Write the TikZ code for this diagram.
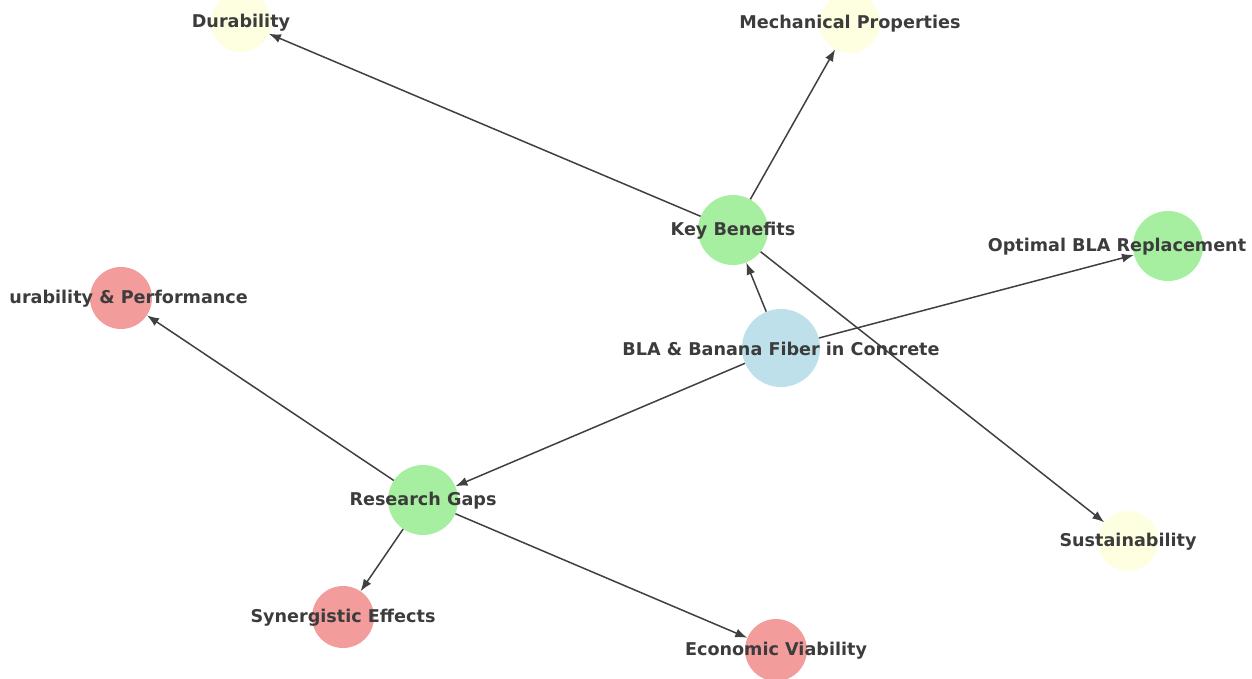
\documentclass[tikz,border=0pt]{standalone}
\usepackage{fontspec}
\setmainfont{DejaVu Sans}
\usepackage{tikz}
\usetikzlibrary{arrows.meta}
\usepackage{color}
\definecolor{skyblue}{RGB}{190, 224, 235}
\definecolor{mint}{RGB}{166, 239, 160}
\definecolor{coral}{RGB}{242, 156, 156}
\definecolor{cream}{RGB}{254, 254, 224}
\definecolor{ink}{RGB}{60, 60, 60}
\definecolor{wire}{RGB}{64, 64, 64}

\tikzset{
  hub/.style={circle, fill=skyblue, minimum size=78pt, inner sep=0pt},
  branch/.style={circle, fill=mint, minimum size=70pt, inner sep=0pt},
  gap/.style={circle, fill=coral, minimum size=62pt, inner sep=0pt},
  gain/.style={circle, fill=cream, minimum size=60pt, inner sep=0pt},
  lbl/.style={text=ink, font=\fontsize{17.6}{20}\selectfont\bfseries, inner sep=0pt},
  link/.style={draw=wire, line width=1.5pt, -{Latex[length=12pt,width=9pt]}}
}

\begin{document}
\begin{tikzpicture}[x=1pt, y=-1pt]
            \useasboundingbox (0,0) rectangle (1252,679);
            \clip (0,0) rectangle (1252,679);
            % circles
            \node[hub]    (hub)  at ( 781, 348) {};
            \node[branch] (kb)   at ( 733, 230) {};
            \node[branch] (rg)   at ( 423, 500) {};
            \node[branch] (obr)  at (1168, 246) {};
            \node[gain]   (dur)  at ( 241,  22) {};
            \node[gain]   (mech) at ( 850,  23) {};
            \node[gain]   (sus)  at (1128, 541) {};
            \node[gap]    (dp)   at ( 121, 298) {};
            \node[gap]    (syn)  at ( 343, 617) {};
            \node[gap]    (eco)  at ( 776, 650) {};
            % edges
            \draw[link] (hub) -- (kb);
            \draw[link] (hub) -- (obr);
            \draw[link] (hub) -- (rg);
            \draw[link] (kb)  -- (dur);
            \draw[link] (kb)  -- (mech);
            \draw[link] (kb)  -- (sus);
            \draw[link] (rg)  -- (dp);
            \draw[link] (rg)  -- (syn);
            \draw[link] (rg)  -- (eco);
            % labels
            \node[lbl] (t-hub)  at ( 781, 349) {BLA \& Banana Fiber in Concrete};
            \node[lbl] (t-kb)   at ( 733, 231) {Key Benefits};
            \node[lbl] (t-rg)   at ( 423, 501) {Research Gaps};
            \node[lbl] (t-obr)  at (1117, 247) {Optimal BLA Replacement};
            \node[lbl] (t-dur)  at ( 241,  23) {Durability};
            \node[lbl] (t-mech) at ( 850,  24) {Mechanical Properties};
            \node[lbl] (t-sus)  at (1128, 542) {Sustainability};
            \node[lbl, anchor=east] (t-dp) at (248, 299) {urability \& Performance};
            \node[lbl] (t-syn)  at ( 343, 618) {Synergistic Effects};
            \node[lbl] (t-eco)  at ( 776, 651) {Economic Viability};
        \end{tikzpicture}
\end{document}
